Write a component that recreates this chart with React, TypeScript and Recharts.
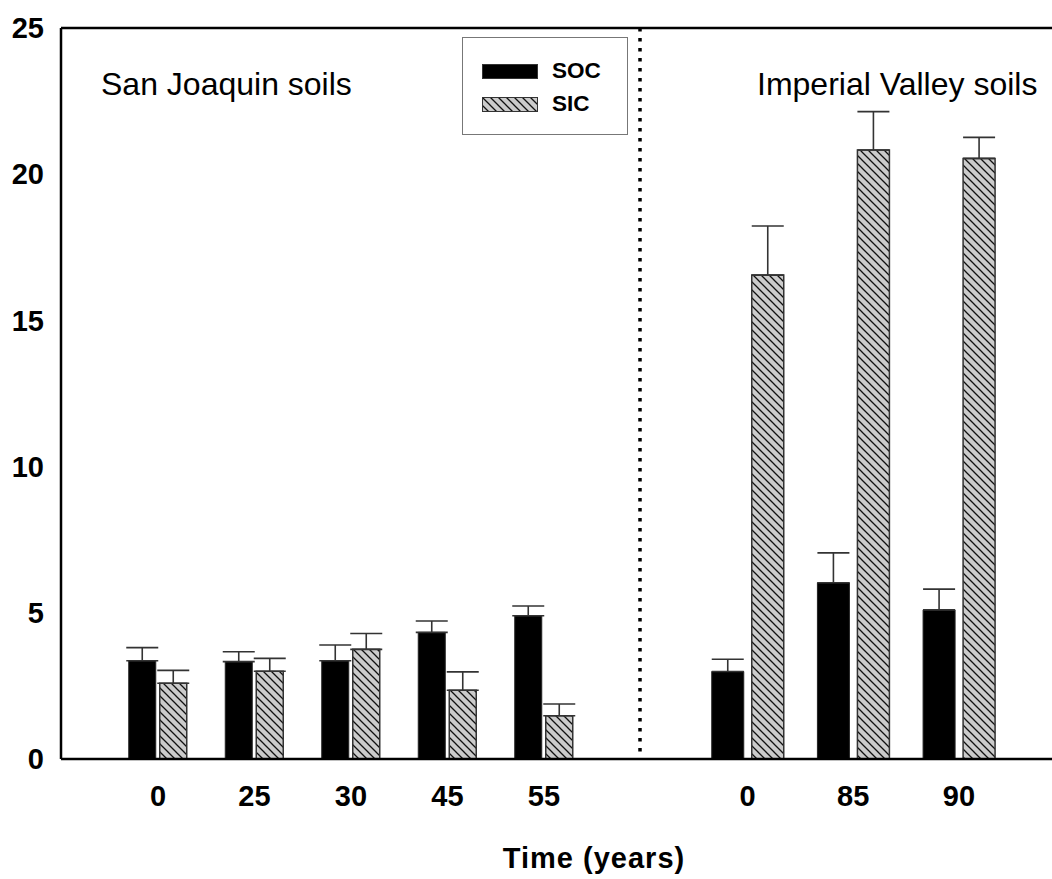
import React from 'react';
import {
  BarChart,
  Bar,
  XAxis,
  YAxis,
  ErrorBar,
  ReferenceLine,
  Legend,
} from 'recharts';

// San Joaquin soils
const sjYears = ['0', '25', '30', '45', '55'];
const sjSoc = [3.36, 3.33, 3.36, 4.33, 4.9];
const sjSocErr = [0.45, 0.34, 0.54, 0.39, 0.33];
const sjSic = [2.59, 3.0, 3.75, 2.35, 1.48];
const sjSicErr = [0.44, 0.44, 0.54, 0.63, 0.4];

// Imperial Valley soils
const ivYears = ['0', '85', '90'];
const ivSoc = [2.99, 6.03, 5.1];
const ivSocErr = [0.42, 1.02, 0.71];
const ivSic = [16.55, 20.83, 20.54];
const ivSicErr = [1.68, 1.31, 0.72];

const yTicks = [0, 5, 10, 15, 20, 25];
const legendOrder = ['soc', 'sic'];

const FONT = '"Liberation Sans", Arial, Helvetica, sans-serif';

const buildRows = (years: string[], soc: number[], socErr: number[], sic: number[], sicErr: number[]) =>
  years.map((year, i) => ({
    year,
    soc: soc[i],
    socErr: [0, socErr[i]],
    sic: sic[i],
    sicErr: [0, sicErr[i]],
  }));

const sjData = buildRows(sjYears, sjSoc, sjSocErr, sjSic, sjSicErr);
const ivData = buildRows(ivYears, ivSoc, ivSocErr, ivSic, ivSicErr);

const Hatch = ({ id }: { id: string }) => (
  <pattern id={id} patternUnits="userSpaceOnUse" width="8" height="8">
    <rect width="8" height="8" fill="#cbcbcb" />
    <path d="M-2,-2 L10,10 M-2,6 L2,10 M6,-2 L10,2" stroke="#111" strokeWidth={1.3} />
  </pattern>
);

const tickStyle = { fontSize: 29, fontWeight: 'bold', fill: '#000', fontFamily: FONT };

const renderLegend = (props: any) => {
  const items = [...(props.payload || [])].sort(
    (a: any, b: any) => legendOrder.indexOf(a.dataKey) - legendOrder.indexOf(b.dataKey)
  );
  return (
    <div
      style={{
        width: 166,
        height: 98,
        boxSizing: 'border-box',
        border: '1px solid #777',
        background: '#fff',
        position: 'relative',
        fontFamily: FONT,
      }}
    >
      {items.map((entry: any, i: number) => (
        <div
          key={entry.value}
          style={{ position: 'absolute', left: 19, top: 19 + i * 33, height: 28, display: 'flex', alignItems: 'center' }}
        >
          <svg width={56} height={15} style={{ display: 'block' }}>
            <defs>
              <Hatch id="hatchLegend" />
            </defs>
            <rect
              x={0.5}
              y={0.5}
              width={55}
              height={14}
              fill={entry.dataKey === 'sic' ? 'url(#hatchLegend)' : '#000'}
              stroke="#333"
              strokeWidth={1}
            />
          </svg>
          <span style={{ marginLeft: 14, fontSize: 22.5, fontWeight: 'bold', color: '#000' }}>{entry.value}</span>
        </div>
      ))}
    </div>
  );
};

const App = () => {
  return (
    <div style={{ position: 'absolute', left: 0, top: 0, width: 1052, height: 879, background: '#fff', fontFamily: FONT }}>
      <div style={{ position: 'absolute', left: 0, top: 0 }}>
        <BarChart width={640} height={879} data={sjData} margin={{ top: 28, right: 0, bottom: 0, left: 0 }} barSize={27} barGap={4}>
          <defs>
            <Hatch id="hatchSJ" />
          </defs>
          <XAxis
            dataKey="year"
            height={120}
            padding={{ left: 48.75, right: 47.75 }}
            axisLine={{ stroke: '#000', strokeWidth: 2.5 }}
            tickLine={false}
            tickSize={6}
            tickMargin={20}
            interval={0}
            tick={tickStyle}
          />
          <YAxis
            width={61}
            domain={[0, 25]}
            ticks={yTicks}
            interval={0}
            axisLine={{ stroke: '#000', strokeWidth: 2.5 }}
            tickLine={false}
            tickSize={6}
            tickMargin={11}
            tick={tickStyle}
          />
          <ReferenceLine y={25} stroke="#000" strokeWidth={2.5} />
          <Legend
            layout="horizontal"
            align="center"
            verticalAlign="middle"
            content={renderLegend}
            wrapperStyle={{ left: 462, top: 37, width: 166, height: 98 }}
          />
          <Bar dataKey="soc" name="SOC" fill="#000" stroke="#222" strokeWidth={1} isAnimationActive={false}>
            <ErrorBar dataKey="socErr" direction="y" width={16} stroke="#333" strokeWidth={1.6} isAnimationActive={false} />
          </Bar>
          <Bar dataKey="sic" name="SIC" fill="url(#hatchSJ)" stroke="#333" strokeWidth={1.5} isAnimationActive={false}>
            <ErrorBar dataKey="sicErr" direction="y" width={16} stroke="#333" strokeWidth={1.6} isAnimationActive={false} />
          </Bar>
        </BarChart>
      </div>
      <div style={{ position: 'absolute', left: 630, top: 0 }}>
        <BarChart width={422} height={879} data={ivData} margin={{ top: 28, right: 0, bottom: 0, left: 0 }} barSize={32} barGap={8}>
          <defs>
            <Hatch id="hatchIV" />
          </defs>
          <XAxis
            dataKey="year"
            height={120}
            padding={{ left: 54.75, right: 40.25 }}
            axisLine={{ stroke: '#000', strokeWidth: 2.5 }}
            tickLine={false}
            tickSize={6}
            tickMargin={20}
            interval={0}
            tick={tickStyle}
          />
          <YAxis
            width={10}
            domain={[0, 25]}
            ticks={yTicks}
            tick={false}
            tickLine={false}
            axisLine={{ stroke: '#000', strokeWidth: 3.5, strokeDasharray: '3.5 6.5' }}
          />
          <ReferenceLine y={25} stroke="#000" strokeWidth={2.5} />
          <Bar dataKey="soc" name="SOC" fill="#000" stroke="#222" strokeWidth={1} isAnimationActive={false}>
            <ErrorBar dataKey="socErr" direction="y" width={16} stroke="#333" strokeWidth={1.6} isAnimationActive={false} />
          </Bar>
          <Bar dataKey="sic" name="SIC" fill="url(#hatchIV)" stroke="#333" strokeWidth={1.5} isAnimationActive={false}>
            <ErrorBar dataKey="sicErr" direction="y" width={16} stroke="#333" strokeWidth={1.6} isAnimationActive={false} />
          </Bar>
        </BarChart>
      </div>
      <div style={{ position: 'absolute', left: 101, top: 66, fontSize: 32, lineHeight: '36px', color: '#000', whiteSpace: 'nowrap' }}>
        San Joaquin soils
      </div>
      <div style={{ position: 'absolute', left: 757, top: 66, fontSize: 32, lineHeight: '36px', color: '#000', whiteSpace: 'nowrap' }}>
        Imperial Valley soils
      </div>
      <div
        style={{
          position: 'absolute',
          left: 494,
          width: 200,
          top: 841,
          textAlign: 'center',
          fontSize: 29,
          fontWeight: 'bold',
          letterSpacing: 1,
          lineHeight: '34px',
          color: '#000',
          whiteSpace: 'nowrap',
        }}
      >
        Time (years)
      </div>
    </div>
  );
};

export default App;
